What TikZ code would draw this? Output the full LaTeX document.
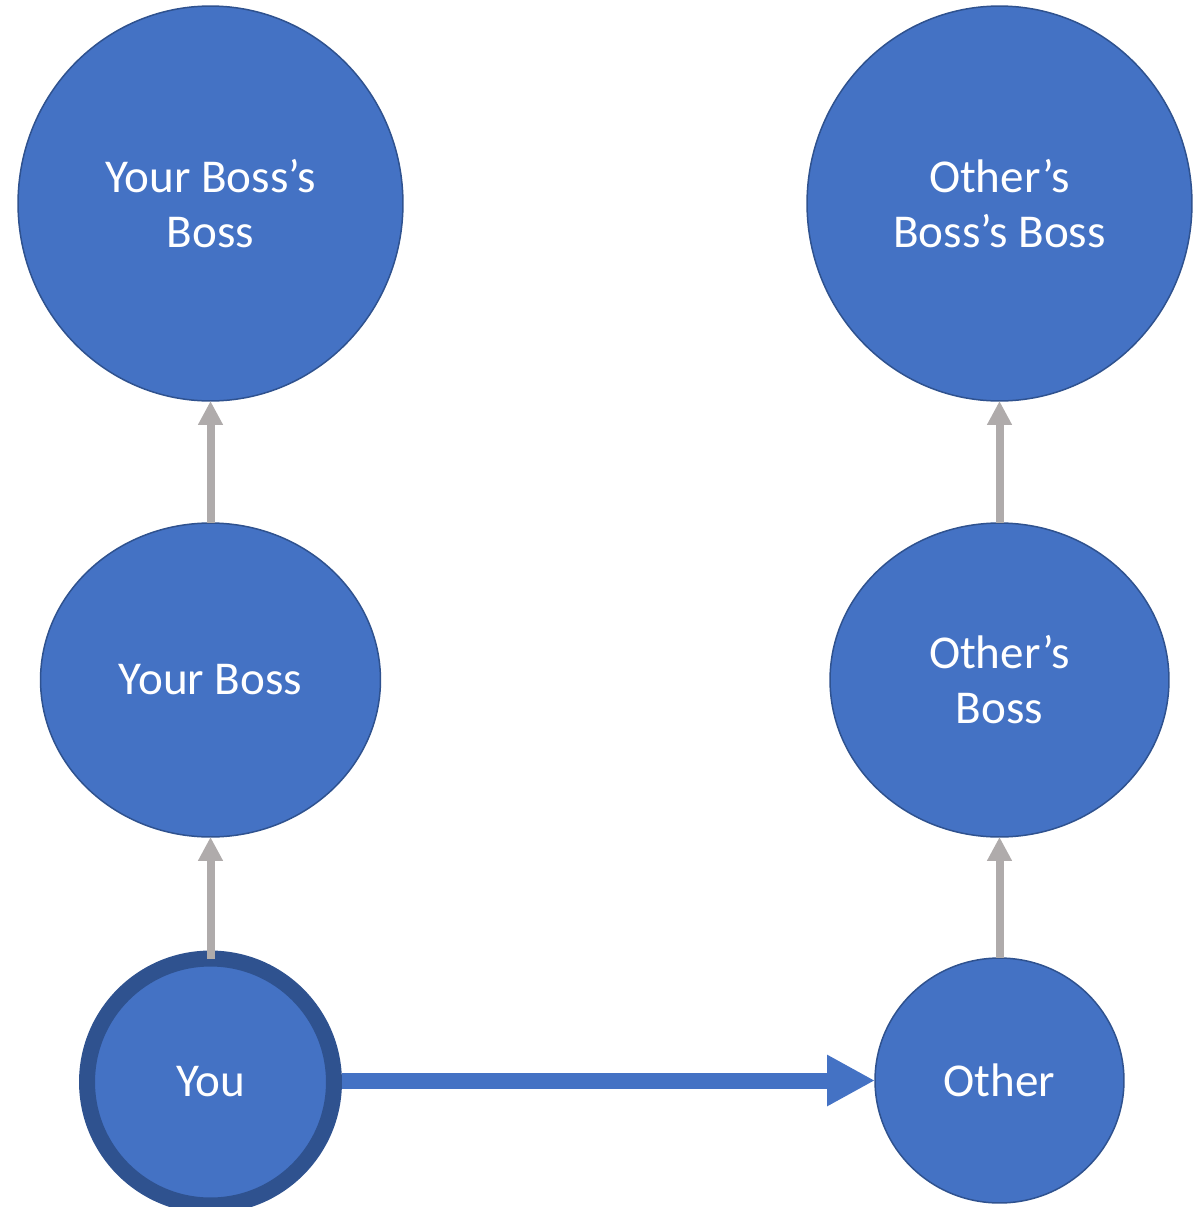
\documentclass[tikz,border=0pt]{standalone}
\usepackage{fontspec}
\setmainfont{Carlito}
\usetikzlibrary{shapes.geometric,arrows.meta}
\definecolor{bossblue}{HTML}{4472C4}
\definecolor{bossline}{HTML}{2F528F}
\definecolor{linkgray}{HTML}{AFABAB}
\begin{document}
\begin{tikzpicture}[x=0.02cm, y=-0.02cm,
    % Styles
    person/.style={ellipse, draw=bossline, fill=bossblue, line width=0.85pt, text=white, align=center,
        inner sep=0pt, outer sep=0pt, font=\fontsize{26.8}{31.3}\selectfont},
    self/.style={person, circle, line width=0.32cm, minimum size=4.94cm},
    report-arrow/.style={-{Triangle[length=0.48cm, width=0.47cm]}, linkgray, line width=0.16cm},
    peer-arrow/.style={-{Triangle[length=0.96cm, width=0.96cm]}, bossblue, line width=0.32cm},
]
\useasboundingbox (0,0) rectangle (1196,1207);

% Left chain
\node[person, minimum width=7.7cm, minimum height=7.9cm] (bossboss) at (210.5,203.5) {Your Boss’s\\Boss};
\node[person, minimum width=6.8cm, minimum height=6.28cm] (boss) at (210.5,680) {Your Boss};
\node[self] (you) at (210.5,1082) {You};

% Right chain
\node[person, minimum width=7.7cm, minimum height=7.9cm] (otherbossboss) at (999.5,203.5) {Other’s\\Boss’s Boss};
\node[person, minimum width=6.78cm, minimum height=6.28cm] (otherboss) at (999.5,680) {Other’s\\Boss};
\node[person, minimum width=4.98cm, minimum height=4.9cm] (other) at (999.5,1080.5) {Other};

% Reporting lines
\draw[report-arrow] (you) -- (boss);
\draw[report-arrow] (boss) -- (bossboss);
\draw[report-arrow] (other) -- (otherboss);
\draw[report-arrow] (otherboss) -- (otherbossboss);

% You to other
\draw[peer-arrow, shorten <=0.16cm] (you.east |- other.west) -- (other.west);

\end{tikzpicture}
\end{document}
